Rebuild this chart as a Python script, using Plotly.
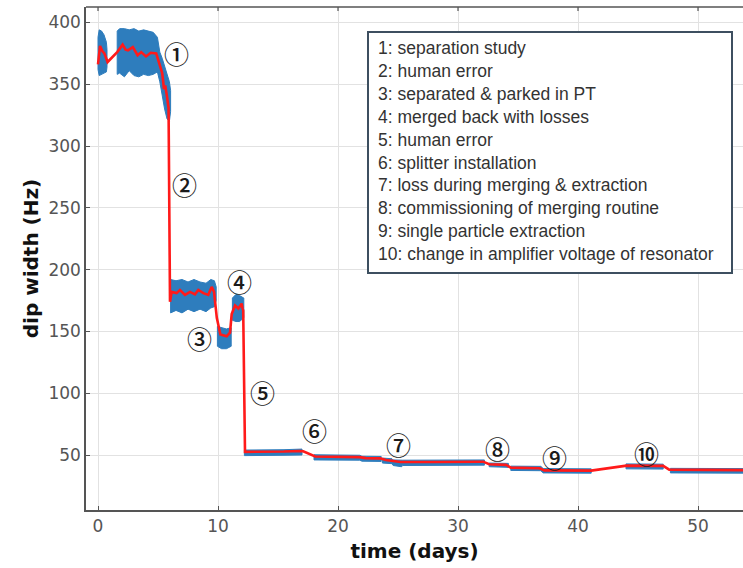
import plotly.graph_objects as go

# Smoothed dip width (red trace)
red_x = [0.0, 0.05, 0.17, 0.35, 0.53, 0.8, 1.2, 1.6, 2.05, 2.3, 2.5, 2.9, 3.3, 3.6, 4.0, 4.4,
         4.85, 5.1, 5.35, 5.5, 5.6, 5.75, 5.88, 6.0, 6.14, 6.55, 6.83, 7.25, 7.67, 8.08, 8.36,
         8.78, 9.19, 9.47, 9.67, 9.9, 10.1, 10.2, 10.72, 11.0, 11.14, 11.42, 11.7, 11.97, 12.05,
         12.1, 12.25, 14.0, 15.5, 16.8, 17.1, 18.1, 20.0, 21.8, 22.3, 23.5, 24.0, 24.6, 25.2,
         28.0, 30.0, 32.1, 32.6, 34.0, 34.4, 36.8, 37.2, 41.1, 44.05, 47.1, 47.6, 53.8]
red_y = [366, 372, 381, 377, 375, 368, 372, 376, 382, 378, 377.5, 380, 373.5, 376, 372.5, 375.5,
         375, 367, 359, 346, 349, 340, 331, 174, 182, 181, 183.5, 179.5, 182, 180, 183.5,
         181, 179.5, 186, 182, 161, 150, 147.5, 146, 149, 164, 171, 168.5, 172.5, 168.5,
         167, 52.5, 52.5, 52.8, 53.3, 53, 48.8, 48.6, 48.3, 47.5, 47.3, 46, 45, 44.3,
         44.3, 44.2, 44.6, 42.5, 42, 39.8, 39.3, 37.6, 37.4, 41.4, 41.2, 38.2, 37.8]

# Spread of the raw measurements (blue), segments separated by None
blue_x = [0.0, 0.1, 0.3, 0.5, 0.7, 0.75, None,
          1.6, 1.8, 2.2, 2.6, 3.0, 3.4, 3.8, 4.2, 4.6, 4.95, 5.15, 5.35, 5.55, 5.75, 5.95, 6.05, None,
          6.05, 6.5, 7.0, 7.5, 8.0, 8.5, 9.0, 9.4, 9.7, 9.85, None,
          9.95, 10.3, 10.7, 11.1, None,
          11.2, 11.5, 11.8, 12.15, None,
          12.2, 14.0, 15.5, 17.0, None,
          18.0, 21.8, 22.0, 23.6, None,
          23.7, 24.5, 24.6, 25.3, 25.4, 32.2, None,
          32.6, 34.2, None,
          34.4, 36.9, 37.1, 41.1, None,
          44.0, 47.1, None,
          47.7, 53.8]
blue_hi = [388, 394, 393, 390, 384, 378, None,
           393, 395, 395, 394, 395, 393, 394, 393, 392, 388, 376, 371, 365, 358, 352, 345, None,
           192, 191, 192, 190, 192, 190, 189, 192, 191, 186, None,
           154, 153, 152, 153, None,
           177, 180, 179, 177, None,
           54, 54, 54.3, 54.8, None,
           50.2, 49.8, 49, 48.8, None,
           47.5, 47, 46, 45.8, 45.8, 46, None,
           43.5, 43.2, None,
           41, 40.8, 39, 38.8, None,
           42.8, 42.6, None,
           39.2, 39]
blue_lo = [362, 357, 358, 359, 360, 364, None,
           358, 359, 356, 361, 357, 356, 358, 357, 358, 360, 352, 342, 330, 322, 320, 328, None,
           165, 167, 165, 168, 166, 168, 166, 169, 170, 175, None,
           138, 136, 136, 138, None,
           159, 158, 158, 161, None,
           49.5, 49.7, 49.8, 50, None,
           46, 45.8, 45, 44.8, None,
           43.5, 43, 41.5, 40.5, 41.5, 41.8, None,
           40.5, 40, None,
           37.5, 37.3, 35.5, 35.3, None,
           38.8, 38.6, None,
           35.5, 35.3]

# Event markers
event_labels = ["①", "②", "③", "④", "⑤", "⑥", "⑦", "⑧", "⑨", "⑩"]
event_x = [6.5, 7.17, 8.42, 11.75, 13.67, 18.08, 25.0, 33.25, 38.0, 45.67]
event_y = [375, 269, 144.7, 190.8, 101, 70.2, 58.9, 55.7, 48.4, 51.6]

event_text = [
    "1: separation study",
    "2: human error",
    "3: separated & parked in PT",
    "4: merged back with losses",
    "5: human error",
    "6: splitter installation",
    "7: loss during merging & extraction",
    "8: commissioning of merging routine",
    "9: single particle extraction",
    "10: change in amplifier voltage of resonator",
]

x_ticks = [0, 10, 20, 30, 40, 50]
y_ticks = [50, 100, 150, 200, 250, 300, 350, 400]

W, H = 743, 568
ML, MR, MT, MB = 86, 0, 7, 58
PW, PH = W - ML - MR, H - MT - MB


def px_to_paper(px, py):
    return (px - ML) / PW, (H - MB - py) / PH


# Build closed polygons for each blue segment
poly_x, poly_y = [], []
seg_x, seg_hi, seg_lo = [], [], []
for xv, hv, lv in list(zip(blue_x, blue_hi, blue_lo)) + [(None, None, None)]:
    if xv is None:
        if seg_x:
            poly_x += seg_x + seg_x[::-1] + [seg_x[0], None]
            poly_y += seg_hi + seg_lo[::-1] + [seg_hi[0], None]
        seg_x, seg_hi, seg_lo = [], [], []
    else:
        seg_x.append(xv)
        seg_hi.append(hv)
        seg_lo.append(lv)

fig = go.Figure()
fig.add_trace(go.Scatter(x=poly_x, y=poly_y, mode="lines", fill="toself",
                         fillcolor="#2e7dbd", line=dict(color="#2e7dbd", width=1),
                         hoverinfo="skip"))
fig.add_trace(go.Scatter(x=red_x, y=red_y, mode="lines",
                         line=dict(color="#ff1a1a", width=2.6)))

axis_common = dict(
    showgrid=True, gridcolor="#e2e2e2", gridwidth=1, zeroline=False,
    showline=True, linecolor="#555555", linewidth=1.5,
    ticks="inside", ticklen=4, tickcolor="#555555", tickwidth=1.2,
    tickfont=dict(family="DejaVu Sans", size=17, color="#555555"),
)
fig.update_xaxes(range=[-1, 53.75], tickvals=x_ticks, **axis_common,
                 title=dict(text="time (days)", standoff=9,
                            font=dict(family="DejaVu Sans", size=20, color="#111111",
                                      weight="bold")))
fig.update_yaxes(range=[5.5, 412.5], tickvals=y_ticks, **axis_common,
                 title=dict(text="dip width (Hz)", standoff=4,
                            font=dict(family="DejaVu Sans", size=20, color="#111111",
                                      weight="bold")))

shapes = [dict(type="line", xref="paper", yref="paper", x0=0, x1=1, y0=1, y1=1,
               line=dict(color="#555555", width=1.5))]
for t in x_ticks:
    shapes.append(dict(type="line", xref="x", yref="paper", x0=t, x1=t,
                       y0=1, y1=1 - 4 / PH, line=dict(color="#555555", width=1.2)))

# Event description box
bx0, by1 = px_to_paper(368, 32)
bx1, by0 = px_to_paper(732, 273)
shapes.append(dict(type="rect", xref="paper", yref="paper", x0=bx0, x1=bx1, y0=by0, y1=by1,
                   fillcolor="white", line=dict(color="#3d4f60", width=2), layer="above"))

annotations = []
for lbl, xv, yv in zip(event_labels, event_x, event_y):
    annotations.append(dict(x=xv, y=yv, xref="x", yref="y", text=lbl, showarrow=False,
                            font=dict(family="Noto Sans CJK JP", size=25, color="#1a1a1a",
                                      weight=500)))

for i, line in enumerate(event_text):
    tx, ty = px_to_paper(376, 48 + i * 22.9)
    annotations.append(dict(x=tx, y=ty, xref="paper", yref="paper", text=line,
                            showarrow=False, xanchor="left", yanchor="middle",
                            font=dict(family="Liberation Sans", size=17.5, color="#333333")))

fig.update_layout(width=W, height=H, margin=dict(l=ML, r=MR, t=MT, b=MB),
                  plot_bgcolor="white", paper_bgcolor="white", showlegend=False,
                  shapes=shapes, annotations=annotations)

fig.write_html("out.html")
